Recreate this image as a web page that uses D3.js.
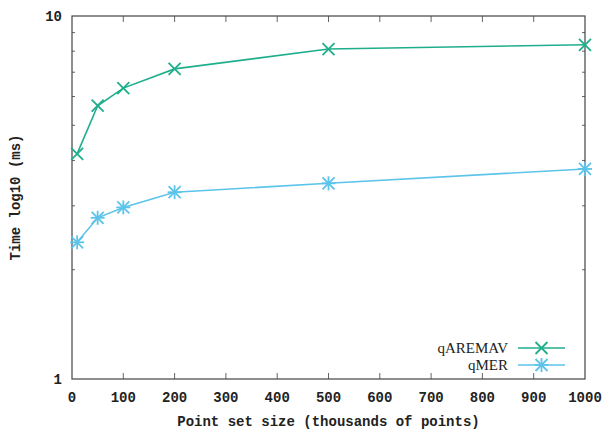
<!DOCTYPE html>
<html>
<head>
<meta charset="utf-8">
<script src="https://cdn.jsdelivr.net/npm/d3@7"></script>
<style>
  body { margin: 0; background: #fff; }
  svg text { fill: #222; }
</style>
</head>
<body>
<div id="chart"></div>
<script>
// point set sizes (thousands of points)
const sizes = [10, 50, 100, 200, 500, 1000];
const qAREMAV = [4.17, 5.66, 6.33, 7.15, 8.11, 8.33];
const qMER = [2.38, 2.78, 2.97, 3.27, 3.46, 3.79];
const xTicks = [0, 100, 200, 300, 400, 500, 600, 700, 800, 900, 1000];
const yTicks = [1, 10];
const yMinor = [2, 3, 4, 5, 6, 7, 8, 9];

const series = [
  { name: "qAREMAV", values: qAREMAV, color: "#1fae8c", marker: "x" },
  { name: "qMER", values: qMER, color: "#5cc3ea", marker: "star" }
];

const width = 608, height = 431;
const padL = 72, padR = 585, padT = 16, padB = 379;

const svg = d3.select("#chart").append("svg")
  .attr("width", width)
  .attr("height", height);

const x = d3.scaleLinear().domain([0, 1000]).range([padL, padR]);
const y = d3.scaleLog().domain([1, 10]).range([padB, padT]);

const mono = "'Liberation Mono', 'Courier New', monospace";

// ticks (inward, mirrored)
const tickG = svg.append("g").attr("stroke", "#666").attr("stroke-width", 1);
xTicks.slice(1, -1).forEach(t => {
  tickG.append("line").attr("x1", x(t)).attr("x2", x(t)).attr("y1", padB).attr("y2", padB - 6);
  tickG.append("line").attr("x1", x(t)).attr("x2", x(t)).attr("y1", padT).attr("y2", padT + 6);
});
yMinor.forEach(t => {
  tickG.append("line").attr("x1", padL).attr("x2", padL + 3).attr("y1", y(t)).attr("y2", y(t));
  tickG.append("line").attr("x1", padR).attr("x2", padR - 3).attr("y1", y(t)).attr("y2", y(t));
});

// frame
svg.append("rect")
  .attr("x", padL).attr("y", padT)
  .attr("width", padR - padL).attr("height", padB - padT)
  .attr("fill", "none").attr("stroke", "#444").attr("stroke-width", 1.2);

// tick labels
svg.append("g").selectAll("text").data(xTicks).enter().append("text")
  .attr("x", d => x(d))
  .attr("y", 402)
  .attr("text-anchor", "middle")
  .style("font-family", mono).style("font-size", "14px").style("font-weight", "bold")
  .text(d => d);

svg.append("g").selectAll("text").data(yTicks).enter().append("text")
  .attr("x", 62)
  .attr("y", d => y(d) + 5)
  .attr("text-anchor", "end")
  .style("font-family", mono).style("font-size", "14px").style("font-weight", "bold")
  .text(d => d);

// axis titles
svg.append("text")
  .attr("x", (padL + padR) / 2)
  .attr("y", 426)
  .attr("text-anchor", "middle")
  .style("font-family", mono).style("font-size", "14px").style("font-weight", "bold")
  .text("Point set size (thousands of points)");

svg.append("text")
  .attr("transform", "rotate(-90)")
  .attr("x", -(padT + padB) / 2)
  .attr("y", 20)
  .attr("text-anchor", "middle")
  .style("font-family", mono).style("font-size", "14px").style("font-weight", "bold")
  .text("Time log10 (ms)");

function drawMarker(g, cx, cy, type, color) {
  const r = 6;
  g.append("line").attr("x1", cx - r).attr("y1", cy - r).attr("x2", cx + r).attr("y2", cy + r)
    .attr("stroke", color).attr("stroke-width", 1.8);
  g.append("line").attr("x1", cx - r).attr("y1", cy + r).attr("x2", cx + r).attr("y2", cy - r)
    .attr("stroke", color).attr("stroke-width", 1.8);
  if (type === "star") {
    g.append("line").attr("x1", cx).attr("y1", cy - r - 1).attr("x2", cx).attr("y2", cy + r + 1)
      .attr("stroke", color).attr("stroke-width", 1.8);
    g.append("line").attr("x1", cx - r - 1).attr("y1", cy).attr("x2", cx + r + 1).attr("y2", cy)
      .attr("stroke", color).attr("stroke-width", 1.8);
  }
}

const line = d3.line()
  .x(d => x(d[0]))
  .y(d => y(d[1]));

series.forEach((s, i) => {
  const pts = sizes.map((v, j) => [v, s.values[j]]);
  const g = svg.append("g");
  g.append("path")
    .datum(pts)
    .attr("fill", "none")
    .attr("stroke", s.color)
    .attr("stroke-width", 1.6)
    .attr("d", line);
  pts.forEach(p => drawMarker(g, x(p[0]), y(p[1]), s.marker, s.color));

  // legend
  const ly = 348 + i * 17;
  svg.append("text")
    .attr("x", 508)
    .attr("y", ly + 5)
    .attr("text-anchor", "end")
    .style("font-family", "'Liberation Serif', 'Times New Roman', serif")
    .style("font-size", "15px")
    .text(s.name);
  g.append("line")
    .attr("x1", 518).attr("x2", 565).attr("y1", ly).attr("y2", ly)
    .attr("stroke", s.color).attr("stroke-width", 1.6);
  drawMarker(g, 541.5, ly, s.marker, s.color);
});
</script>
</body>
</html>
